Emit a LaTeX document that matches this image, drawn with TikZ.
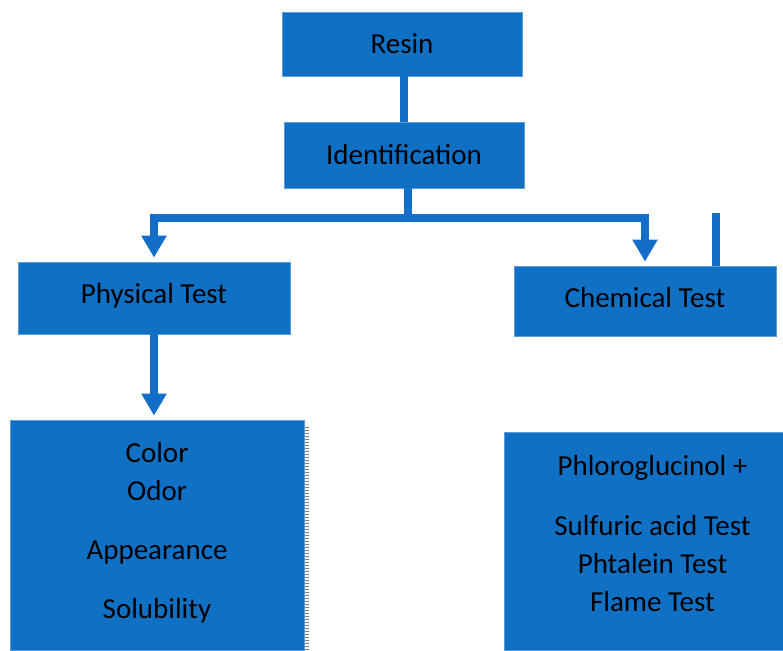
\documentclass[tikz,border=0pt]{standalone}
\usepackage{fontspec}
\setmainfont{Carlito}
\usetikzlibrary{arrows.meta,positioning}
\definecolor{boxblue}{RGB}{16,112,196}
\definecolor{boxedge}{RGB}{95,155,215}
\definecolor{linkblue}{RGB}{18,110,200}

\begin{document}
\begin{tikzpicture}[
  x=1pt,y=-1pt,
  box/.style={rectangle,draw=boxedge,line width=0.8pt,fill=boxblue,text=black,
    font=\fontsize{29}{38}\selectfont,align=center,inner sep=0pt},
  conn/.style={linkblue,line width=7.5pt},
  arr/.style={conn,-{Triangle[length=22pt,width=24pt]},shorten >=4pt},
]
  \useasboundingbox (0,0) rectangle (783,650);
  \node[box,minimum width=240pt,minimum height=64pt] (resin) at (402,44) {Resin};
  \node[box,minimum width=240pt,minimum height=66pt] (ident) at (404,155) {Identification};
  \node[box,minimum width=272pt,minimum height=72pt] (phys) at (154,298) {Physical Test\rule[-10pt]{0pt}{0pt}};
  \node[box,minimum width=262pt,minimum height=70pt] (chem) at (645,301) {Chemical Test\rule[-8pt]{0pt}{0pt}};
  \node[box,minimum width=294pt,minimum height=230pt] (physlist) at (157,535)
    {Color\\Odor\\[21pt]Appearance\\[21pt]Solubility\rule[-10pt]{0pt}{0pt}};
  \node[box,minimum width=279pt,minimum height=218pt,align=none] (chemlist) at (643.5,541)
    {\hspace{18pt}\begin{tabular}{c}Phloroglucinol +\\[22pt]Sulfuric acid Test\\Phtalein Test\\
     Flame Test\rule[-22pt]{0pt}{0pt}\end{tabular}};
  % connectors
  \coordinate (split) at (408,218);
  \coordinate (stub) at (716,213);
  \draw[conn] (resin.south -| ident) -- (ident.north);
  \draw[conn] (ident.south -| split) -- (split);
  \draw[arr] (split) -| (phys.north);
  \draw[arr] (split) -| (chem.north);
  \draw[conn] (stub) -- (stub |- chem.north);
  \draw[arr] (phys.south) -- (phys.south |- physlist.north);
  % dotted edge beside the physical list
  \draw[gray,line width=4pt,dash pattern=on 1.5pt off 1.5pt]
    ([xshift=3pt,yshift=-7pt]physlist.north east) -- ([xshift=3pt]physlist.south east);
\end{tikzpicture}
\end{document}
